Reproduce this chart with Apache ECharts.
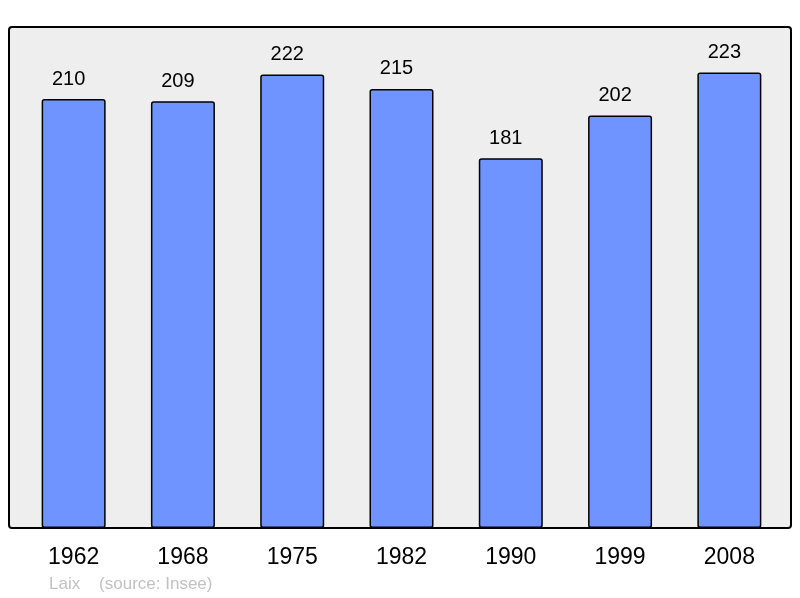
<!DOCTYPE html>
<html>
<head>
<meta charset="utf-8">
<script src="https://cdn.jsdelivr.net/npm/echarts@6/dist/echarts.min.js"></script>
<style>
  html, body { margin: 0; padding: 0; background: #fff; }
  #chart { width: 800px; height: 598px; }
</style>
</head>
<body>
<div id="chart"></div>
<script>
// population by census year
const years = ['1962', '1968', '1975', '1982', '1990', '1999', '2008'];
const population = [210, 209, 222, 215, 181, 202, 223];
const town = 'Laix';
const source = '(source: Insee)';

const myChart = echarts.init(document.getElementById('chart'));

const option = {
    animation: false,
    backgroundColor: '#ffffff',
    textStyle: { fontFamily: 'Liberation Sans, Arial, sans-serif' },
    graphic: [
        {
            type: 'rect',
            z: -10,
            shape: { x: 9, y: 27, width: 782, height: 501, r: 3 },
            style: { fill: '#eeeeee', stroke: '#000000', lineWidth: 2 }
        },
        {
            type: 'text',
            left: 49,
            top: 576,
            style: {
                text: town + '    ' + source,
                fill: '#c2c2c2',
                font: '17px "Liberation Sans", Arial, sans-serif'
            }
        }
    ],
    grid: { left: 19, right: 16, top: 27, bottom: 70 },
    xAxis: {
        type: 'category',
        data: years,
        axisLine: { show: false },
        axisTick: { show: false },
        axisLabel: {
            color: '#000',
            fontSize: 23,
            margin: 18
        }
    },
    yAxis: {
        type: 'value',
        min: 0,
        max: 245.3,
        show: false,
        splitLine: { show: false }
    },
    series: [{
        type: 'bar',
        data: population,
        barWidth: 64,
        itemStyle: {
            color: '#7094ff',
            borderColor: '#000000',
            borderWidth: 1.5,
            borderRadius: 2
        },
        label: {
            show: true,
            position: 'top',
            distance: 10,
            offset: [-5, 0],
            color: '#000',
            fontSize: 20
        }
    }]
};

myChart.setOption(option);
</script>
</body>
</html>
